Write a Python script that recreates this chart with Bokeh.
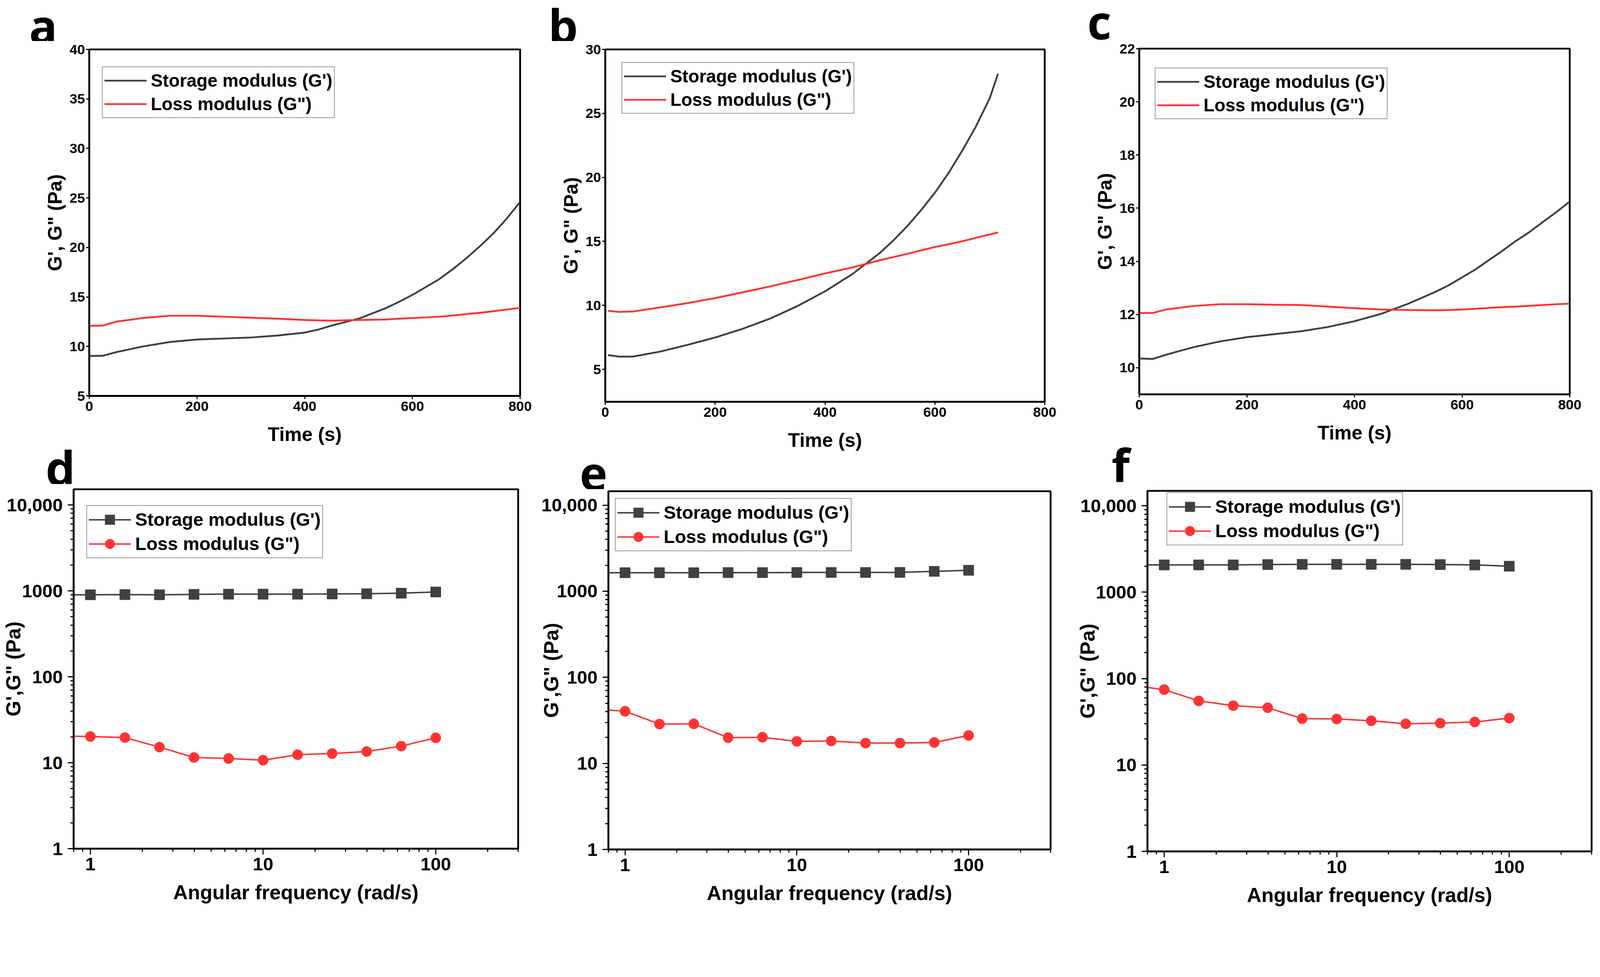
import math
from bokeh.plotting import figure
from bokeh.layouts import column, row
from bokeh.models import Legend, LegendItem, FixedTicker, Label, CustomJSTickFormatter
from bokeh.embed import file_html
from bokeh.resources import INLINE

# ---------------- data: time sweeps (a, b, c) ----------------
time_a = [0, 25, 50, 100, 150, 200, 250, 300, 350, 400, 425, 450, 500, 550, 575, 600, 625, 650, 675, 700, 725, 750, 775, 800]
storage_a = [9.04, 9.05, 9.42, 10.0, 10.45, 10.7, 10.8, 10.9, 11.1, 11.4, 11.7, 12.1, 12.8, 13.85, 14.5, 15.2, 16.0, 16.8, 17.8, 18.9, 20.1, 21.4, 22.9, 24.6]
loss_a = [12.08, 12.1, 12.5, 12.87, 13.1, 13.1, 13.0, 12.9, 12.8, 12.67, 12.63, 12.6, 12.67, 12.72, 12.8, 12.87, 12.93, 13.0, 13.12, 13.26, 13.4, 13.55, 13.72, 13.9]

time_b = [5, 25, 50, 100, 150, 200, 250, 300, 350, 400, 450, 500, 525, 550, 575, 600, 625, 650, 675, 700, 715]
storage_b = [6.12, 6.0, 6.0, 6.39, 6.92, 7.49, 8.17, 8.97, 9.95, 11.1, 12.45, 14.1, 15.1, 16.2, 17.45, 18.8, 20.35, 22.1, 24.0, 26.2, 28.1]
loss_b = [9.58, 9.49, 9.52, 9.84, 10.18, 10.57, 11.02, 11.48, 11.98, 12.5, 12.96, 13.53, 13.78, 14.03, 14.3, 14.56, 14.78, 15.01, 15.28, 15.54, 15.7]

time_c = [0, 25, 50, 100, 150, 200, 250, 300, 350, 400, 450, 500, 550, 575, 600, 625, 650, 675, 700, 725, 750, 775, 800]
storage_c = [10.35, 10.33, 10.49, 10.77, 10.99, 11.15, 11.26, 11.37, 11.53, 11.75, 12.03, 12.41, 12.85, 13.1, 13.4, 13.7, 14.05, 14.4, 14.77, 15.1, 15.48, 15.85, 16.25]
loss_c = [12.06, 12.06, 12.19, 12.32, 12.39, 12.39, 12.37, 12.36, 12.3, 12.24, 12.19, 12.17, 12.16, 12.17, 12.19, 12.22, 12.25, 12.28, 12.3, 12.33, 12.36, 12.39, 12.41]

# ---------------- data: frequency sweeps (d, e, f) ----------------
freq = [0.631, 1.0, 1.585, 2.512, 3.981, 6.31, 10.0, 15.85, 25.12, 39.81, 63.1, 100.0]
storage_d = [900, 900, 905, 900, 910, 915, 915, 915, 920, 925, 940, 970]
loss_d = [20.5, 20.2, 19.6, 15.2, 11.5, 11.2, 10.7, 12.4, 12.8, 13.5, 15.6, 19.5]
storage_e = [1640, 1640, 1640, 1640, 1645, 1645, 1650, 1650, 1650, 1655, 1700, 1750]
loss_e = [43.0, 40.3, 28.6, 28.8, 19.9, 20.1, 18.0, 18.2, 17.2, 17.2, 17.5, 21.1]
storage_f = [2070, 2070, 2070, 2070, 2090, 2100, 2100, 2100, 2100, 2090, 2070, 2000]
loss_f = [84.0, 74.6, 55.2, 48.6, 46.0, 34.4, 34.1, 32.5, 30.0, 30.5, 31.5, 34.9]

time_ticks = [0, 200, 400, 600, 800]
yticks_a = [5, 10, 15, 20, 25, 30, 35, 40]
yticks_b = [5, 10, 15, 20, 25, 30]
yticks_c = [10, 12, 14, 16, 18, 20, 22]
freq_ticks = [1, 10, 100]
mod_ticks = [1, 10, 100, 1000, 10000]

panel_letters = ["a", "b", "c", "d", "e", "f"]
label_storage = "Storage modulus (G')"
label_loss = 'Loss modulus (G")'

FONT = "Liberation Sans"
LETTER_FONT = "Open Sans"
GREY = "#404040"
RED = "#ff3333"

S = 0.9375  # global pixel scale


def P(v):
    return int(round(v * S))


def F(v):
    return f"{v * S:.1f}px"


def letter_fig(letter, w, h, lx, ly):
    # small blank canvas that carries a panel letter (position in its own pixel space)
    p = figure(width=P(w), height=P(h), x_range=(0, w), y_range=(0, h),
               x_axis_location=None, y_axis_location=None,
               output_backend="svg", toolbar_location=None,
               min_border=0, outline_line_color=None)
    p.xgrid.visible = False
    p.ygrid.visible = False
    p.background_fill_color = "white"
    p.border_fill_color = "white"
    p.add_layout(Label(x=lx, y=ly, text=letter,
                       text_font=LETTER_FONT, text_font_style="bold",
                       text_font_size=F(128), text_color="black",
                       text_baseline="alphabetic", text_align="left"))
    return p


def base_fig(frame, borders, xr, yr, xtype="linear", ytype="linear"):
    fw, fh = frame
    bl, br, bt, bb = borders
    p = figure(frame_width=P(fw), frame_height=P(fh), x_range=xr, y_range=yr,
               x_axis_type=xtype, y_axis_type=ytype,
               output_backend="svg", toolbar_location=None,
               min_border_left=P(bl), min_border_right=P(br),
               min_border_top=P(bt), min_border_bottom=P(bb))
    p.xgrid.visible = False
    p.ygrid.visible = False
    p.outline_line_color = "black"
    p.outline_line_width = 5 * S
    p.outline_line_alpha = 1
    p.background_fill_color = "white"
    p.border_fill_color = "white"
    return p


def style_axis(ax, tick_px, title_px, tick_out, standoff, title_standoff, minor=False):
    ax.axis_line_width = 5 * S
    ax.axis_line_color = "black"
    ax.major_tick_line_width = 3 * S
    ax.major_tick_line_color = "black"
    ax.major_tick_in = 0
    ax.major_tick_out = P(tick_out)
    if minor:
        ax.minor_tick_line_width = 3 * S
        ax.minor_tick_line_color = "black"
        ax.minor_tick_in = 0
        ax.minor_tick_out = P(tick_out / 2)
    else:
        ax.minor_tick_line_color = None
    ax.major_label_text_font = FONT
    ax.major_label_text_font_style = "bold"
    ax.major_label_text_font_size = F(tick_px)
    ax.major_label_text_color = "black"
    ax.major_label_standoff = P(standoff)
    ax.axis_label_text_font = FONT
    ax.axis_label_text_font_style = "bold"
    ax.axis_label_text_font_size = F(title_px)
    ax.axis_label_text_color = "black"
    ax.axis_label_standoff = P(title_standoff)


def add_legend(p, items, frame_h, left, top, font_px, row_h):
    leg_h = 2 * row_h + 8
    leg = Legend(items=items, location=(P(left), P(frame_h - top - leg_h)))
    leg.label_text_font = FONT
    leg.label_text_font_style = "bold"
    leg.label_text_font_size = F(font_px)
    leg.label_text_color = "black"
    leg.glyph_width = P(115)
    leg.glyph_height = P(row_h)
    leg.label_height = P(row_h)
    leg.label_standoff = P(12)
    leg.padding = P(4)
    leg.spacing = 0
    leg.margin = 0
    leg.border_line_color = "#9a9a9a"
    leg.border_line_width = 3 * S
    leg.border_line_alpha = 1
    leg.background_fill_color = "white"
    leg.background_fill_alpha = 1
    p.add_layout(leg)


def time_panel(t, g1, g2, ylim, yticks, frame, borders, leg_lt):
    p = base_fig(frame, borders, (0, 800), ylim)
    r1 = p.line(t, g1, line_color=GREY, line_width=5 * S)
    r2 = p.line(t, g2, line_color=RED, line_width=5 * S)
    p.xaxis.ticker = FixedTicker(ticks=time_ticks)
    p.yaxis.ticker = FixedTicker(ticks=yticks)
    p.xaxis.axis_label = "Time (s)"
    p.yaxis.axis_label = 'G\', G" (Pa)'
    style_axis(p.xaxis[0], 38, 53, 8, 6, 31)
    style_axis(p.yaxis[0], 38, 53, 8, 3, 6)
    add_legend(p, [LegendItem(label=label_storage, renderers=[r1]),
                   LegendItem(label=label_loss, renderers=[r2])],
               frame[1], leg_lt[0], leg_lt[1], 49, 64)
    return p


log_fmt = CustomJSTickFormatter(code="return tick >= 10000 ? tick.toLocaleString('en-US') : String(tick);")
x_minor = [0.8, 0.9] + [k for k in range(2, 10)] + [10 * k for k in range(2, 10)] + [200, 300]
y_minor = [m * 10 ** e for e in range(0, 4) for m in range(2, 10)]


def freq_panel(gs, gl, ytop, frame, borders, leg_lt, ystand):
    p = base_fig(frame, borders, (0.8, 300), (1, ytop), "log", "log")
    l1 = p.line(freq, gs, line_color=GREY, line_width=4 * S)
    m1 = p.scatter(freq, gs, marker="square", size=28 * S, fill_color=GREY, line_color=GREY)
    l2 = p.line(freq, gl, line_color=RED, line_width=4 * S)
    m2 = p.scatter(freq, gl, marker="circle", size=28 * S, fill_color=RED, line_color=RED)
    p.xaxis.ticker = FixedTicker(ticks=freq_ticks, minor_ticks=x_minor)
    p.yaxis.ticker = FixedTicker(ticks=mod_ticks, minor_ticks=y_minor)
    p.xaxis.formatter = log_fmt
    p.yaxis.formatter = log_fmt
    p.xaxis.axis_label = "Angular frequency (rad/s)"
    p.yaxis.axis_label = 'G\',G" (Pa)'
    style_axis(p.xaxis[0], 50, 55, 16, 9, 26, minor=True)
    style_axis(p.yaxis[0], 50, 55, 16, 14, ystand, minor=True)
    add_legend(p, [LegendItem(label=label_storage, renderers=[l1, m1]),
                   LegendItem(label=label_loss, renderers=[l2, m2])],
               frame[1], leg_lt[0], leg_lt[1], 50, 66)
    return p


# geometry in reference pixels: frame (w, h); borders (left, right, top, bottom)
# column 1 spans x 8..1470, column 2 1470..2930, column 3 2930..4367
pa = time_panel(time_a, storage_a, loss_a, (5, 40), yticks_a,
                (1177, 946), (243, 42, 22, 134), (35, 52))
pb = time_panel(time_b, storage_b, loss_b, (2.47, 30), yticks_b,
                (1200, 962), (190, 70, 22, 136), (45, 40))
pc = time_panel(time_c, storage_c, loss_c, (9.0, 22), yticks_c,
                (1176, 944), (188, 73, 22, 136), (43, 57))

pd = freq_panel(storage_d, loss_d, 15200, (1214, 981), (201, 47, 14, 173), (35, 48), -52)
pe = freq_panel(storage_e, loss_e, 14500, (1208, 978), (198, 54, 5, 169), (18, 24), -61)
pf = freq_panel(storage_f, loss_f, 14900, (1213, 985), (210, 14, 23, 163), (52, 10), -53)

la = letter_fig(panel_letters[0], 1462, 112, 79, 43)
ld = letter_fig(panel_letters[3], 1462, 103, 124, 46)
lb = letter_fig(panel_letters[1], 1460, 112, 34, 43)
le = letter_fig(panel_letters[4], 1460, 101, 120, 42)
lc = letter_fig(panel_letters[2], 1437, 110, 46, 52)
lf = letter_fig(panel_letters[5], 1437, 102, 112, 47)


def stack(*figs):
    # wrap each figure in its own box so that the layout does not align their frames
    return column(*[column(f, spacing=0) for f in figs], spacing=0)


layout = row(stack(la, pa, ld, pd), stack(lb, pb, le, pe), stack(lc, pc, lf, pf), spacing=0)

with open("out.html", "w") as fh:
    fh.write(file_html(layout, INLINE))
